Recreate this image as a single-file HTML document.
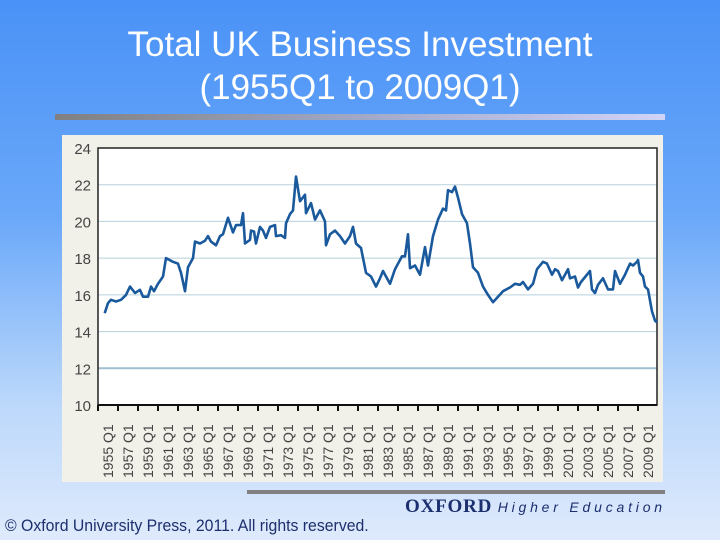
<!DOCTYPE html>
<html><head><meta charset="utf-8"><style>
html,body{margin:0;padding:0}
body{width:720px;height:540px;overflow:hidden;background:linear-gradient(#4a92f7 0%,#6aa8f9 40%,#bcd8fb 75%,#dfeafc 100%);font-family:"Liberation Sans",sans-serif;position:relative}
.t{position:absolute;left:0;width:720px;text-align:center;color:#fff;font-size:35px;line-height:43px}
</style></head><body>
<div class="t" style="top:23px">Total UK Business Investment<br>(1955Q1 to 2009Q1)</div>
<div style="position:absolute;left:55px;top:114px;width:610px;height:6px;background:linear-gradient(90deg,#808080,#a0a8c8 50%,#d0d4f8)"></div>
<svg width="720" height="540" style="position:absolute;left:0;top:0">
<rect x="62" y="135" width="601" height="347" fill="#f2f1e9"/>
<rect x="98" y="148" width="559" height="257" fill="#fff"/>
<g id="grid"></g><g id="axes"></g>
<path id="line" fill="none" stroke="#1a5a9c" stroke-width="2.6" stroke-linejoin="round"/>
</svg>
<div style="position:absolute;left:247px;top:490px;width:418px;height:4px;background:#808080"></div>
<div style="position:absolute;left:405px;top:496px;font-family:'Liberation Serif',serif;font-weight:bold;font-size:19px;color:#1c2f6e;letter-spacing:0.8px;white-space:nowrap">OXFORD <span style="font-family:'Liberation Sans',sans-serif;font-weight:normal;font-style:italic;font-size:14px;letter-spacing:3.8px">Higher Education</span></div>
<div style="position:absolute;left:5px;top:516px;font-size:17px;color:#1c2f6e;white-space:nowrap;transform:scaleX(0.93);transform-origin:left">© Oxford University Press, 2011. All rights reserved.</div>
<script>
const years=[1955.67,1956.0,1956.3,1956.8,1957.3,1957.8,1958.2,1958.7,1959.2,1959.5,1960.0,1960.3,1960.6,1961.0,1961.5,1961.8,1962.5,1963.0,1963.3,1963.7,1964.0,1964.5,1964.7,1965.2,1965.7,1966.0,1966.3,1966.8,1967.2,1967.5,1968.0,1968.5,1968.8,1969.3,1969.5,1969.7,1970.2,1970.3,1970.6,1970.8,1971.2,1971.5,1971.8,1972.2,1972.7,1972.8,1973.3,1973.7,1973.8,1974.2,1974.5,1974.8,1975.2,1975.7,1975.8,1976.3,1976.7,1977.2,1977.7,1977.8,1978.2,1978.7,1979.2,1979.7,1980.2,1980.5,1980.8,1981.3,1981.8,1982.3,1982.8,1983.2,1983.5,1984.2,1984.7,1985.4,1985.7,1986.0,1986.2,1986.7,1987.2,1987.7,1988.0,1988.5,1989.0,1989.5,1989.8,1990.0,1990.4,1990.7,1991.0,1991.4,1991.9,1992.2,1992.5,1993.0,1993.5,1994.0,1994.5,1995.0,1995.5,1996.2,1996.7,1997.2,1997.5,1998.0,1998.5,1998.9,1999.5,1999.9,2000.4,2000.7,2001.0,2001.4,2002.0,2002.2,2002.7,2003.0,2003.3,2004.2,2004.4,2004.7,2005.0,2005.5,2006.0,2006.5,2006.7,2007.2,2007.7,2008.2,2008.5,2008.9,2009.0,2009.2,2009.5,2009.7,2010.0,2010.4,2010.7,2010.9];
const values=[15.0,15.55,15.73,15.64,15.73,16.0,16.45,16.1,16.27,15.9,15.9,16.45,16.2,16.6,17.0,18.0,17.8,17.7,17.2,16.2,17.5,18.0,18.9,18.8,18.95,19.2,18.9,18.7,19.2,19.3,20.2,19.4,19.8,19.8,20.45,18.8,19.0,19.5,19.45,18.8,19.7,19.5,19.1,19.7,19.8,19.2,19.25,19.1,19.9,20.4,20.6,22.45,21.1,21.45,20.45,21.0,20.1,20.6,20.0,18.7,19.3,19.5,19.2,18.8,19.2,19.7,18.8,18.55,17.2,17.0,16.45,16.9,17.3,16.6,17.4,18.1,18.1,19.3,17.45,17.6,17.1,18.6,17.6,19.2,20.1,20.7,20.6,21.7,21.6,21.9,21.3,20.4,19.9,18.8,17.5,17.2,16.45,16.0,15.6,15.9,16.2,16.4,16.6,16.55,16.7,16.3,16.6,17.4,17.8,17.7,17.1,17.4,17.3,16.8,17.4,16.9,17.0,16.4,16.7,17.3,16.3,16.1,16.55,16.9,16.3,16.3,17.3,16.6,17.1,17.7,17.6,17.8,17.9,17.2,17.0,16.45,16.3,15.1,14.6,14.5];
const yTicks=[10,12,14,16,18,20,22,24];
const xTickYears=[1955,1957,1959,1961,1963,1965,1967,1969,1971,1973,1975,1977,1979,1981,1983,1985,1987,1989,1991,1993,1995,1997,1999,2001,2003,2005,2007,2009];
const X=y=>98+(y-1955)*10, Y=v=>405-(v-10)*257/14;
const NS="http://www.w3.org/2000/svg";
const grid=document.getElementById('grid'),axes=document.getElementById('axes');
function mk(tag,at,par){const e=document.createElementNS(NS,tag);for(const k in at)e.setAttribute(k,at[k]);par.appendChild(e);return e;}
yTicks.forEach(v=>{
 if(v>10&&v<24){const g=mk('line',{x1:98,x2:657,y1:Y(v),y2:Y(v),stroke:v==12?'#9fbfd0':'#b8d0dc','stroke-width':v==12?2:1},grid);
 
 }
 const t=mk('text',{x:91,y:Y(v)+6,'text-anchor':'end','font-size':15,fill:'#444','font-family':'Liberation Sans'},axes);t.textContent=v;
 
 
});
const fr=mk('path',{d:'M98,148H657V405H98Z',fill:'none',stroke:'#222','stroke-width':1.5},axes);


mk('line',{x1:98,x2:657,y1:405,y2:405,stroke:'#111','stroke-width':2},axes);
xTickYears.forEach(y=>{
 const x=X(y);mk('line',{x1:x,x2:x,y1:405,y2:411,stroke:'#111','stroke-width':2},axes);
 const t=mk('text',{transform:`translate(${x+15},${478}) rotate(-90)`,'font-size':14,fill:'#444','font-family':'Liberation Sans'},axes);
 t.textContent=y+' Q1';
 
 
});
document.getElementById('line').setAttribute('d',years.map((y,i)=>(i?'L':'M')+X(y).toFixed(1)+','+Y(values[i]).toFixed(1)).join(''));
</script>
</body></html>
